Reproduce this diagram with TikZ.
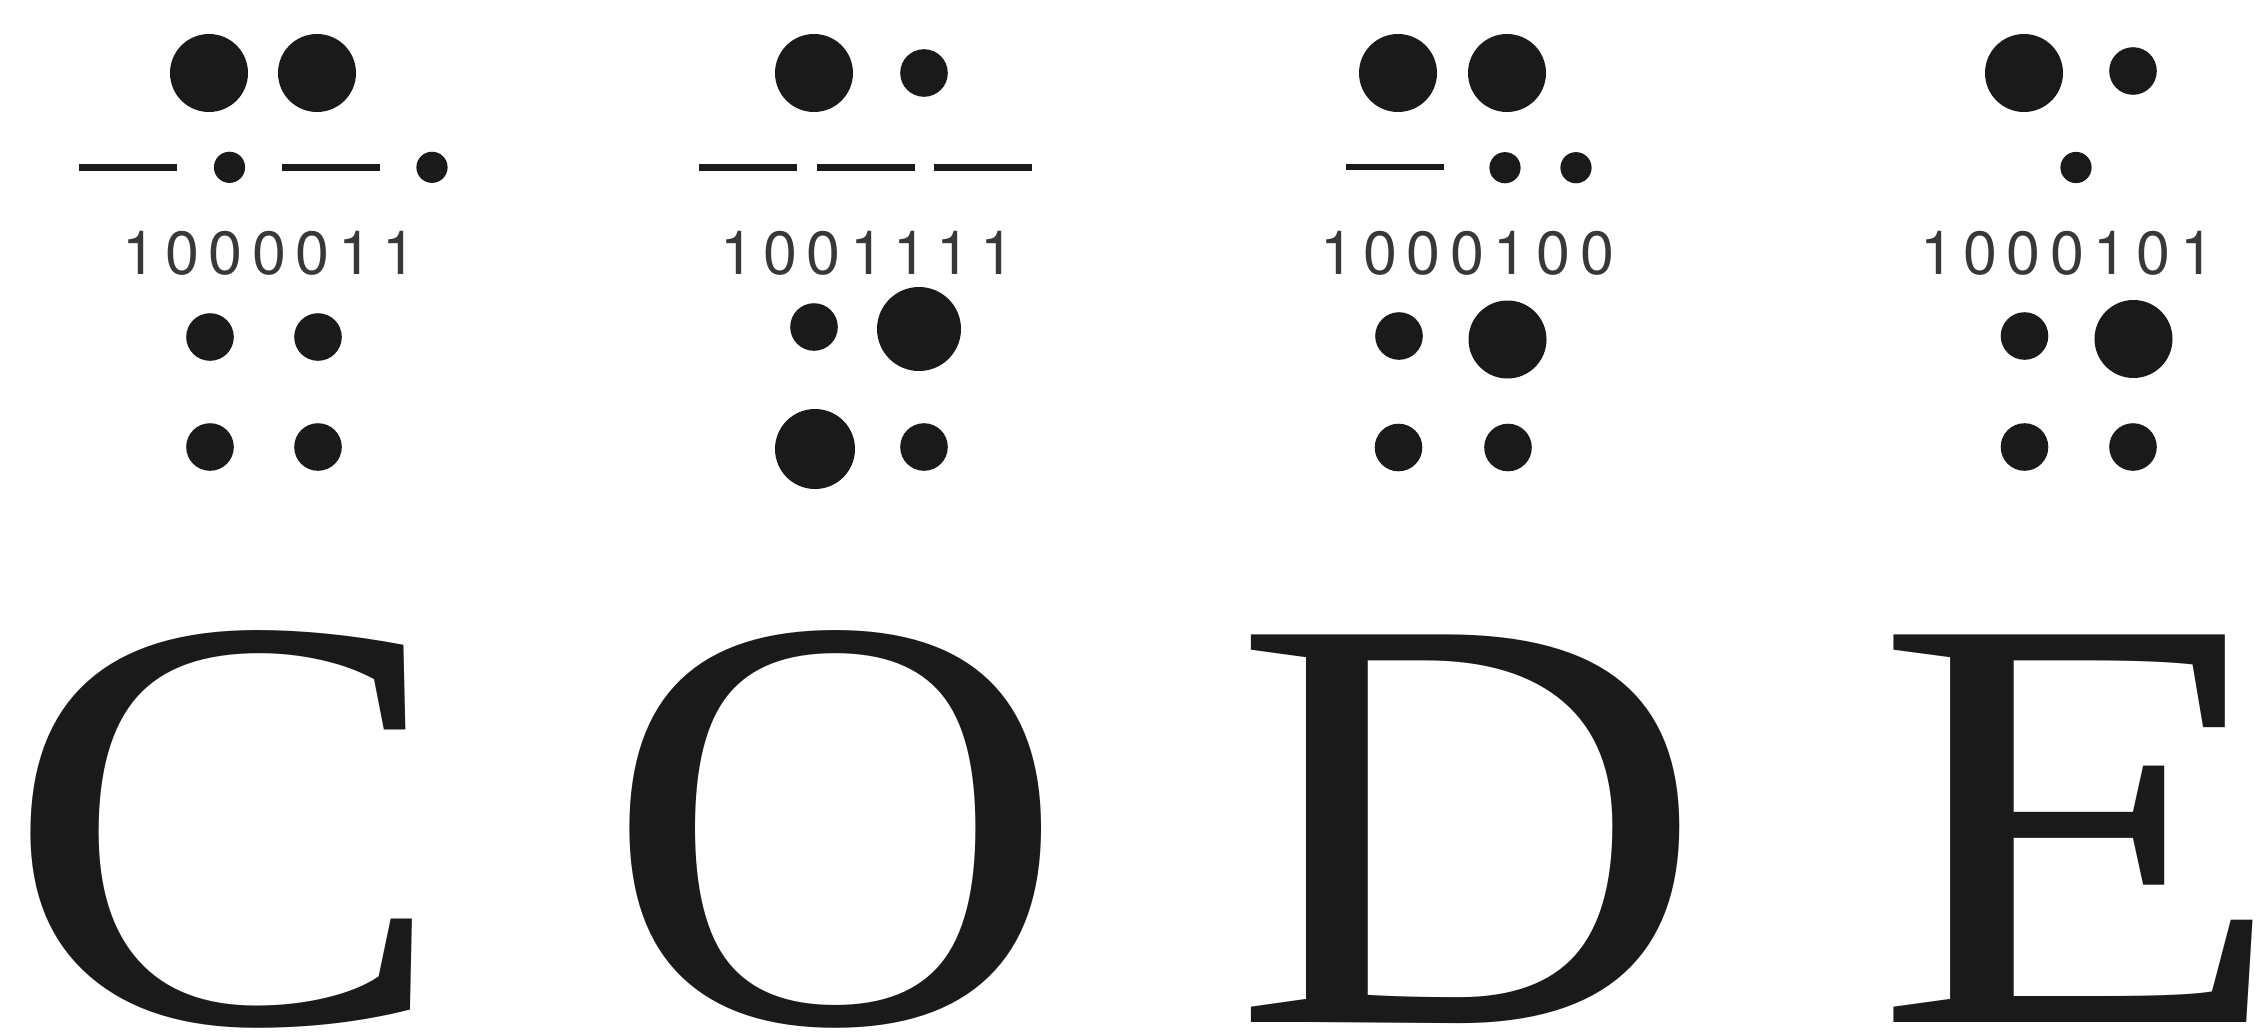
\documentclass[tikz,border=0pt]{standalone}
\usepackage{graphicx}
\usepackage{fontspec}
\setmainfont{Liberation Serif}
\newfontfamily\digitfont{TeX Gyre Heros}
\newfontfamily\bigserif[FakeStretch=1.065]{Liberation Serif}
\definecolor{ink}{HTML}{1A1A1A}
\newlength\dpitch \setlength\dpitch{21.65pt}
\newcommand\dg[1]{\makebox[\dpitch][l]{#1}}
\newcommand\codestr[7]{\dg{#1}\dg{#2}\dg{#3}\dg{#4}\dg{#5}\dg{#6}\dg{#7}}
\begin{document}
\begin{tikzpicture}[x=0.5pt,y=-0.5pt,
  dotb/.style={circle,fill=ink,inner sep=0pt,minimum size=39pt},
  dotm/.style={circle,fill=ink,inner sep=0pt,minimum size=23.8pt},
  dots/.style={circle,fill=ink,inner sep=0pt,minimum size=15.6pt},
  bar/.style={rectangle,fill=ink,inner sep=0pt,minimum height=3.3pt,minimum width=49pt},
  codetxt/.style={anchor=base west,inner sep=0pt,text=black!78,font=\digitfont\fontsize{30.5pt}{30.5pt}\selectfont},
  letter/.style={anchor=base west,inner sep=0pt,text=ink,font=\bigserif\fontsize{296pt}{296pt}\selectfont}]
\useasboundingbox[fill=white] (0,0) rectangle (2256,1033);
% ---- C ----
\node[dotb] (c1) at (209,73) {};
\node[dotb] (c2) at (317,73) {};
\node[bar]  (cb1) at (128,167.3) {};
\node[dots] (cs1) at (229.5,167.3) {};
\node[bar]  (cb2) at (331,167.3) {};
\node[dots] (cs2) at (432,167.3) {};
\node[codetxt] (ct) at (122,274.5) {\codestr1000011};
\node[dotm] (c3) at (210,337) {};
\node[dotm] (c4) at (318,337) {};
\node[dotm] (c5) at (210,447) {};
\node[dotm] (c6) at (318,447) {};
% ---- O ----
\node[dotb] (o1) at (814,73) {};
\node[dotm] (o2) at (924,73) {};
\node[bar]  (ob1) at (748,167.3) {};
\node[bar]  (ob2) at (866,167.3) {};
\node[bar]  (ob3) at (983,167.3) {};
\node[codetxt] (ot) at (720,274.5) {\codestr1001111};
\node[dotm] (o3) at (814,327) {};
\node[dotb,minimum size=42pt] (o4) at (919,329) {};
\node[dotb,minimum size=40pt] (o5) at (815,449) {};
\node[dotm] (o6) at (924,447) {};
% ---- D ----
\node[dotb] (d1) at (1398,73) {};
\node[dotb] (d2) at (1507,73) {};
\node[bar]  (db1) at (1395,167) {};
\node[dots] (ds1) at (1505,167.7) {};
\node[dots] (ds2) at (1576,167.7) {};
\node[codetxt] (dt) at (1320,274.5) {\codestr1000100};
\node[dotm] (d3) at (1399,336) {};
\node[dotb] (d4) at (1507.5,339.5) {};
\node[dotm] (d5) at (1398.5,447.5) {};
\node[dotm] (d6) at (1508,447.5) {};
% ---- E ----
\node[dotb] (e1) at (2024,73) {};
\node[dotm] (e2) at (2133,71) {};
\node[dots] (es1) at (2076,167.5) {};
\node[codetxt] (et) at (1920,274.5) {\codestr1000101};
\node[dotm] (e3) at (2024.5,336) {};
\node[dotb] (e4) at (2133.5,339) {};
\node[dotm] (e5) at (2024.5,447) {};
\node[dotm] (e6) at (2133,447) {};
% ---- big letters ----
\node[letter] (LC) at (3,1022) {\scalebox{1.06}[1]{C}};
\node[letter] (LO) at (603,1022) {\scalebox{1.02}[1]{O}};
\node[letter] (LD) at (1232,1022) {\scalebox{1.04}[1]{D}};
\node[letter] (LE) at (1874,1022) {\scalebox{1.07}[1]{E}};
\end{tikzpicture}
\end{document}
